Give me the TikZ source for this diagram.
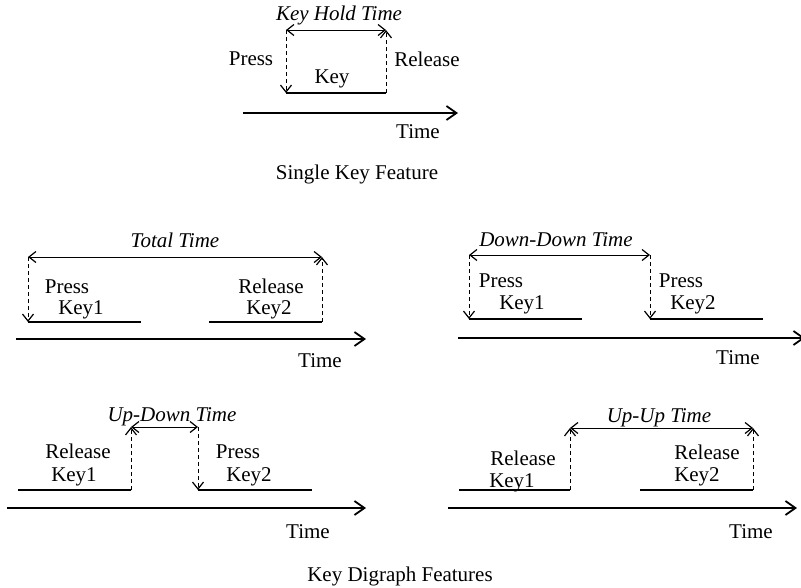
\documentclass[tikz,border=0pt]{standalone}
\usepackage{fontspec}
\setmainfont{Liberation Serif}
\usepackage{tikz}
\usetikzlibrary{arrows.meta,positioning}
\tikzset{
  lbl/.style  = {font=\fontsize{21}{24}\selectfont, inner sep=0pt, anchor=base},
  ttl/.style  = {lbl, font=\fontsize{21}{24}\selectfont\itshape},
  keyline/.style = {line width=1.7pt},
  evt/.style  = {->, line width=0.9pt, dash pattern=on 4pt off 3pt},
  span/.style = {<->, line width=1pt},
  axis/.style = {-{Straight Barb[length=10pt,width=14pt,line width=1.8pt]}, line width=2.6pt}
}

\begin{document}
\begin{tikzpicture}[x=1pt,y=-1pt,>={Straight Barb[length=7pt,width=11pt,line width=1.2pt]}]
  \useasboundingbox (0,0) rectangle (801,587);

  % single key
  \coordinate (kp) at (286,93);  \coordinate (kr) at (386,93);
  \coordinate (kpt) at (286,30); \coordinate (krt) at (386,30);
  \draw[keyline] (kp) -- (kr);
  \draw[evt] (kpt) -- (kp);
  \draw[evt] (kr) -- (krt);
  \draw[span] (kpt) -- (krt);
  \coordinate (ax0s) at (243,113); \coordinate (ax0e) at (458,113);
  \draw[axis] (ax0s) -- (ax0e);
  \node[ttl] (hold) at (339,20) {Key Hold Time};
  \node[lbl] (press0) at (251,65) {Press};
  \node[lbl] (rel0) at (427,66) {Release};
  \node[lbl] (key0) at (332,83) {Key};
  \node[lbl] (time0) at (418,138) {Time};
  \node[lbl] (single) at (357,179) {Single Key Feature};

  % total time
  \coordinate (t1a) at (28,322);  \coordinate (t1b) at (141,322);
  \coordinate (t2a) at (209,322); \coordinate (t2b) at (322,322);
  \coordinate (t1t) at (28,257);  \coordinate (t2t) at (322,257);
  \draw[keyline] (t1a) -- (t1b);
  \draw[keyline] (t2a) -- (t2b);
  \draw[evt] (t1t) -- (t1a);
  \draw[evt] (t2b) -- (t2t);
  \draw[span] (t1t) -- (t2t);
  \coordinate (ax1s) at (16,339); \coordinate (ax1e) at (366,339);
  \draw[axis] (ax1s) -- (ax1e);
  \node[ttl] (total) at (175,247) {Total Time};
  \node[lbl] (press1) at (67,293) {Press};
  \node[lbl] (key11) at (81,314) {Key1};
  \node[lbl] (rel1) at (271,293) {Release};
  \node[lbl] (key12) at (269,314) {Key2};
  \node[lbl] (time1) at (320,367) {Time};

  % down-down time
  \coordinate (d1a) at (469,319); \coordinate (d1b) at (582,319);
  \coordinate (d2a) at (650,319); \coordinate (d2b) at (763,319);
  \coordinate (d1t) at (469,255); \coordinate (d2t) at (650,255);
  \draw[keyline] (d1a) -- (d1b);
  \draw[keyline] (d2a) -- (d2b);
  \draw[evt] (d1t) -- (d1a);
  \draw[evt] (d2t) -- (d2a);
  \draw[span] (d1t) -- (d2t);
  \coordinate (ax2s) at (458,338); \coordinate (ax2e) at (805,338);
  \draw[axis] (ax2s) -- (ax2e);
  \node[ttl] (downdown) at (556,246) {Down-Down Time};
  \node[lbl] (press21) at (501,287) {Press};
  \node[lbl] (key21) at (522,309) {Key1};
  \node[lbl] (press22) at (681,287) {Press};
  \node[lbl] (key22) at (693,309) {Key2};
  \node[lbl] (time2) at (738,364) {Time};

  % up-down time
  \coordinate (u1a) at (18,490);  \coordinate (u1b) at (131,490);
  \coordinate (u2a) at (198,490); \coordinate (u2b) at (312,490);
  \coordinate (u1t) at (131,427); \coordinate (u2t) at (198,427);
  \draw[keyline] (u1a) -- (u1b);
  \draw[keyline] (u2a) -- (u2b);
  \draw[evt] (u1b) -- (u1t);
  \draw[evt] (u2t) -- (u2a);
  \draw[span] (u1t) -- (u2t);
  \coordinate (ax3s) at (7,508); \coordinate (ax3e) at (366,508);
  \draw[axis] (ax3s) -- (ax3e);
  \node[ttl] (updown) at (172,421) {Up-Down Time};
  \node[lbl] (rel31) at (78,458) {Release};
  \node[lbl] (key31) at (74,481) {Key1};
  \node[lbl] (press32) at (238,458) {Press};
  \node[lbl] (key32) at (249,481) {Key2};
  \node[lbl] (time3) at (308,538) {Time};

  % up-up time
  \coordinate (p1a) at (459,490); \coordinate (p1b) at (570,490);
  \coordinate (p2a) at (640,490); \coordinate (p2b) at (753,490);
  \coordinate (p1t) at (570,428); \coordinate (p2t) at (753,428);
  \draw[keyline] (p1a) -- (p1b);
  \draw[keyline] (p2a) -- (p2b);
  \draw[evt] (p1b) -- (p1t);
  \draw[evt] (p2b) -- (p2t);
  \draw[span] (p1t) -- (p2t);
  \coordinate (ax4s) at (448,508); \coordinate (ax4e) at (797,508);
  \draw[axis] (ax4s) -- (ax4e);
  \node[ttl] (upup) at (659,422) {Up-Up Time};
  \node[lbl] (rel41) at (523,465) {Release};
  \node[lbl] (key41) at (512,487) {Key1};
  \node[lbl] (rel42) at (707,459) {Release};
  \node[lbl] (key42) at (697,481) {Key2};
  \node[lbl] (time4) at (751,538) {Time};

  \node[lbl] (digraph) at (400,581) {Key Digraph Features};
\end{tikzpicture}
\end{document}
